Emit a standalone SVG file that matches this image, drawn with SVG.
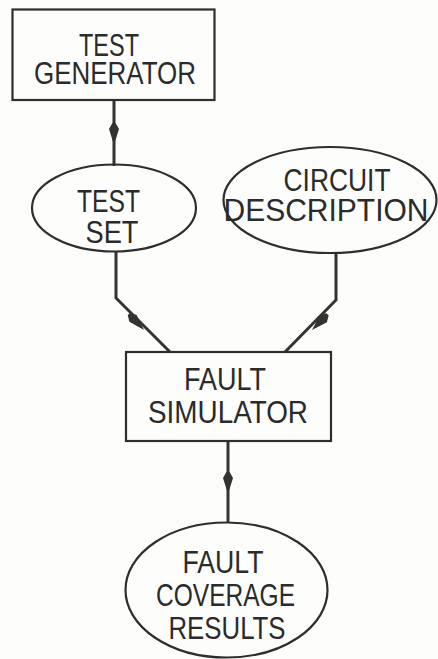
<svg xmlns="http://www.w3.org/2000/svg" width="438" height="659" viewBox="0 0 438 659">
  <style>
    .box { fill: none; stroke: #2e2e2e; stroke-width: 2.2; }
    .wire { fill: none; stroke: #333; stroke-width: 3; stroke-linejoin: miter; }
    .lbl { font-family: "Liberation Sans", Arial, sans-serif; font-size: 31px; fill: #2b2b2b; text-anchor: middle; }
    .head { fill: #333; }
  </style>
  <defs>
    <!-- slender kite-shaped arrowhead, tip at origin, pointing along +y -->
    <path id="arrowhead" class="head" d="M0,0 L-5,-16 L-1.6,-22 L1.6,-22 L5,-16 Z"/>
  </defs>
  <rect width="438" height="659" fill="#fdfdfc"/>

  <g id="connectors">
    <line class="wire" x1="114" y1="100" x2="114" y2="166"/>
    <use href="#arrowhead" transform="translate(114,145)"/>

    <polyline class="wire" points="116,251 116,298 170,352"/>
    <use href="#arrowhead" transform="translate(144,330) rotate(-43.4)"/>

    <polyline class="wire" points="336,253 336,300 285,352"/>
    <use href="#arrowhead" transform="translate(312,330) rotate(45)"/>

    <line class="wire" x1="228" y1="441" x2="228" y2="523"/>
    <use href="#arrowhead" transform="translate(228,494)"/>
  </g>

  <g id="test-generator">
    <rect class="box" x="12.5" y="9.5" width="202" height="90.5"/>
    <text class="lbl" x="109" y="56" textLength="60" lengthAdjust="spacingAndGlyphs">TEST</text>
    <text class="lbl" x="115" y="84" textLength="162" lengthAdjust="spacingAndGlyphs">GENERATOR</text>
  </g>

  <g id="test-set">
    <ellipse class="box" cx="114" cy="208" rx="82" ry="43.5"/>
    <text class="lbl" x="108.5" y="212" textLength="63" lengthAdjust="spacingAndGlyphs">TEST</text>
    <text class="lbl" x="112" y="243" textLength="53" lengthAdjust="spacingAndGlyphs">SET</text>
  </g>

  <g id="circuit-description">
    <ellipse class="box" cx="330" cy="200" rx="106.5" ry="53"/>
    <text class="lbl" x="337" y="191" textLength="107" lengthAdjust="spacingAndGlyphs">CIRCUIT</text>
    <text class="lbl" x="326" y="221" textLength="205" lengthAdjust="spacingAndGlyphs">DESCRIPTION</text>
  </g>

  <g id="fault-simulator">
    <rect class="box" x="126" y="352" width="205" height="89"/>
    <text class="lbl" x="225" y="390" textLength="82" lengthAdjust="spacingAndGlyphs">FAULT</text>
    <text class="lbl" x="228" y="423" textLength="160" lengthAdjust="spacingAndGlyphs">SIMULATOR</text>
  </g>

  <g id="fault-coverage-results">
    <ellipse class="box" cx="226.5" cy="590" rx="101" ry="67.5"/>
    <text class="lbl" x="223" y="573" textLength="81" lengthAdjust="spacingAndGlyphs">FAULT</text>
    <text class="lbl" x="225.5" y="606" textLength="139" lengthAdjust="spacingAndGlyphs">COVERAGE</text>
    <text class="lbl" x="227" y="639" textLength="117" lengthAdjust="spacingAndGlyphs">RESULTS</text>
  </g>
</svg>
